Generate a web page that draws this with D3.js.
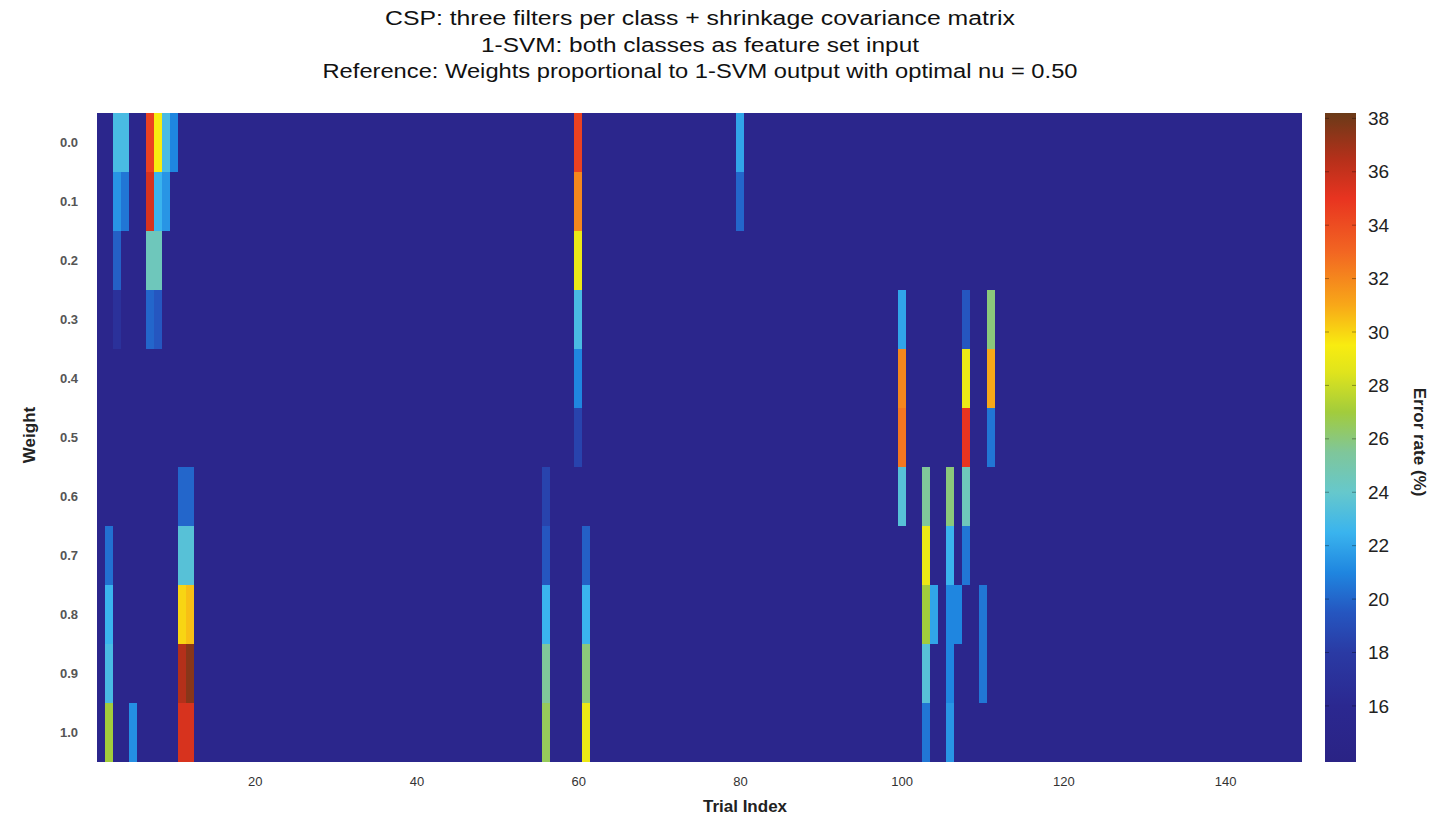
<!DOCTYPE html>
<meta charset="utf-8">
<script src="https://d3js.org/d3.v7.min.js"></script>
<head>
  <style>
    body { margin: 0; background: #fff; }
    text { font-family: "Liberation Sans", Arial, Helvetica, sans-serif; }
  </style>
</head>
<body>
<div id="my_dataviz"></div>
<script>

// weights (rows) and trials (columns)
var weights = [0.0, 0.1, 0.2, 0.3, 0.4, 0.5, 0.6, 0.7, 0.8, 0.9, 1.0];
var nTrials = 149;
var baseRate = 15.2;

// trials where the error rate rises above the baseline, one row per weight (null = baseline)
var peakTrials = [2, 3, 4, 5, 7, 8, 9, 10, 11, 12, 56, 60, 61, 80, 100, 103, 104, 106, 107, 108, 110, 111];
var peakRates = [
  [null, null, null, null, null, null, null, 20.3, 22.5, 23, 27],
  [23, 21.5, 19.8, 17, null, null, null, null, null, null, null],
  [23, 20.5, null, null, null, null, null, null, null, null, null],
  [null, null, null, null, null, null, null, null, null, null, 21.3],
  [34.5, 35.5, 24.5, 20, null, null, null, null, null, null, null],
  [29.5, 22.5, 24.5, 19.5, null, null, null, null, null, null, null],
  [23, 21.5, null, null, null, null, null, null, null, null, null],
  [21, null, null, null, null, null, null, null, null, null, null],
  [null, null, null, null, null, null, 20, 23.5, 30, 36.5, 35.5],
  [null, null, null, null, null, null, 20, 23.5, 30.5, 37.5, 35.5],
  [null, null, null, null, null, null, 18.5, 19.5, 22.5, 25.5, 26.5],
  [34.5, 32, 29, 23, 21, 18.5, null, null, null, null, null],
  [null, null, null, null, null, null, null, 19.8, 22.5, 26, 29],
  [22, 20, null, null, null, null, null, null, null, null, null],
  [null, null, null, 22, 32, 32.5, 23.5, null, null, null, null],
  [null, null, null, null, null, null, 25.5, 29, 27, 23.5, 20.5],
  [null, null, null, null, null, null, null, null, 22, null, null],
  [null, null, null, null, null, null, 26, 22.5, 21, 21, 21.5],
  [null, null, null, null, null, null, null, null, 21, null, null],
  [null, null, null, 19.5, 29, 35, 24.5, 20.5, null, null, null],
  [null, null, null, null, null, null, null, null, 20.5, 20.5, null],
  [null, null, null, 26, 31, 20.5, null, null, null, null, null]
];

var xTicks = [20, 40, 60, 80, 100, 120, 140];
var cTicks = [16, 18, 20, 22, 24, 26, 28, 30, 32, 34, 36, 38];

// jet-like colormap as it appears in the figure
var cDomain = [13.9, 38.2];
var stopValues = [13.9, 16, 18, 19.5, 21, 22.5, 24, 25.5, 27, 28.5, 29.5, 31, 33, 35, 36.5, 38.2];
var stopColors = ['#2a2385', '#2b2890', '#2a3aa4', '#2556c0', '#1f86e0', '#3ab4ee', '#66c8cc', '#7fc69a',
                  '#a2cc3c', '#e0e41c', '#f8ec10', '#f8a818', '#f26622', '#e83420', '#b4301a', '#6a3a18'];

var titleLines = [
  'CSP: three filters per class + shrinkage covariance matrix',
  '1-SVM: both classes as feature set input',
  'Reference: Weights proportional to 1-SVM output with optimal nu = 0.50'
];
var titleWidths = [630, 438, 755];

// build the full grid
var cells = [];
var lookup = {};
peakTrials.forEach(function(t, i) { lookup[t] = peakRates[i]; });
d3.range(1, nTrials + 1).forEach(function(t) {
  weights.forEach(function(w, j) {
    var v = lookup[t] && lookup[t][j] != null ? lookup[t][j] : baseRate;
    cells.push({trial: t, weight: w, rate: v});
  });
});

var W = 1451, H = 819;
var plot = {left: 97, right: 1302, top: 113, bottom: 762};

var svg = d3.select('#my_dataviz').append('svg')
  .attr('width', W)
  .attr('height', H);

var x = d3.scaleLinear()
  .domain([0.5, nTrials + 0.5])
  .range([plot.left, plot.right]);

var y = d3.scaleBand()
  .domain(weights)
  .range([plot.top, plot.bottom]);

var color = d3.scaleLinear()
  .domain(stopValues)
  .range(stopColors)
  .clamp(true);

// heatmap (cells snapped to whole pixels so no seams show)
svg.append('g')
  .attr('shape-rendering', 'crispEdges')
  .selectAll('rect')
  .data(cells)
  .enter()
  .append('rect')
  .attr('x', function(d) { return Math.round(x(d.trial - 0.5)); })
  .attr('y', function(d) { return Math.round(y(d.weight)); })
  .attr('width', function(d) { return Math.round(x(d.trial + 0.5)) - Math.round(x(d.trial - 0.5)); })
  .attr('height', function(d) { return Math.round(y(d.weight) + y.bandwidth()) - Math.round(y(d.weight)); })
  .attr('fill', function(d) { return color(d.rate); });

// axes
var xAxis = svg.append('g')
  .attr('transform', 'translate(0,' + plot.bottom + ')')
  .call(d3.axisBottom(x).tickValues(xTicks).tickSize(0).tickPadding(15));
xAxis.select('.domain').remove();
xAxis.selectAll('text').style('font-size', '13px').attr('fill', '#333');

var yAxis = svg.append('g')
  .attr('transform', 'translate(' + plot.left + ',0)')
  .call(d3.axisLeft(y).tickSize(0).tickPadding(19).tickFormat(d3.format('.1f')));
yAxis.select('.domain').remove();
yAxis.selectAll('text').style('font-size', '13px').style('font-weight', 'bold').attr('fill', '#555');

svg.append('text')
  .text('Trial Index')
  .attr('x', 745)
  .attr('y', 812)
  .attr('text-anchor', 'middle')
  .style('font-size', '17px')
  .style('font-weight', 'bold')
  .attr('fill', '#222');

svg.append('text')
  .text('Weight')
  .attr('text-anchor', 'middle')
  .attr('transform', 'translate(' + [35, 435] + ')rotate(270)')
  .style('font-size', '17px')
  .style('font-weight', 'bold')
  .attr('fill', '#222');

// title
svg.append('g').selectAll('text')
  .data(titleLines)
  .enter()
  .append('text')
  .text(function(d) { return d; })
  .attr('x', 700)
  .attr('y', function(d, i) { return 25 + i * 26.5; })
  .attr('text-anchor', 'middle')
  .attr('textLength', function(d, i) { return titleWidths[i]; })
  .attr('lengthAdjust', 'spacingAndGlyphs')
  .style('font-size', '20px')
  .attr('fill', '#111');

// colorbar
var cb = {left: 1325, width: 31};
var cScale = d3.scaleLinear()
  .domain(cDomain)
  .range([plot.bottom, plot.top]);

var grad = svg.append('defs').append('linearGradient')
  .attr('id', 'cbgrad')
  .attr('x1', 0).attr('y1', 1).attr('x2', 0).attr('y2', 0);
grad.selectAll('stop')
  .data(stopValues)
  .enter()
  .append('stop')
  .attr('offset', function(d) { return (d - cDomain[0]) / (cDomain[1] - cDomain[0]); })
  .attr('stop-color', function(d, i) { return stopColors[i]; });

svg.append('rect')
  .attr('x', cb.left)
  .attr('y', plot.top)
  .attr('width', cb.width)
  .attr('height', plot.bottom - plot.top)
  .attr('fill', 'url(#cbgrad)');

var cAxis = svg.append('g')
  .attr('transform', 'translate(' + (cb.left + cb.width) + ',0)')
  .call(d3.axisRight(cScale).tickValues(cTicks).tickSize(0).tickPadding(12));
cAxis.select('.domain').remove();
cAxis.selectAll('text').style('font-size', '19px').attr('fill', '#222');

// small tick marks on both edges of the colorbar
svg.append('g').selectAll('line')
  .data(cTicks.concat(cTicks))
  .enter()
  .append('line')
  .attr('x1', function(d, i) { return i < cTicks.length ? cb.left : cb.left + cb.width - 4; })
  .attr('x2', function(d, i) { return i < cTicks.length ? cb.left + 4 : cb.left + cb.width; })
  .attr('y1', function(d) { return cScale(d); })
  .attr('y2', function(d) { return cScale(d); })
  .attr('stroke', '#000')
  .attr('stroke-opacity', 0.35);

svg.append('text')
  .text('Error rate (%)')
  .attr('text-anchor', 'middle')
  .attr('transform', 'translate(' + [1414, 442] + ')rotate(90)')
  .style('font-size', '17px')
  .style('font-weight', 'bold')
  .attr('fill', '#222');

</script>
</body>
